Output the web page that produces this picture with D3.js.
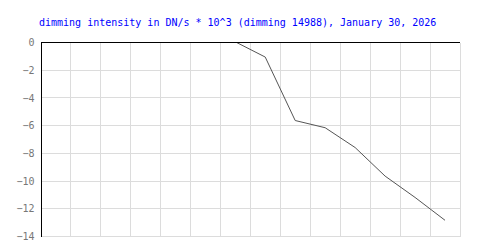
<!DOCTYPE html>
<html>
<head>
<meta charset="utf-8">
<script src="https://cdn.jsdelivr.net/npm/d3@7"></script>
<style>
  body { margin: 0; background: #fff; }
  svg { display: block; }
</style>
</head>
<body>
<div id="chart"></div>
<script>
// Data (x in grid steps, y in DN/s * 10^3)
var titleText = "dimming intensity in DN/s * 10^3 (dimming 14988), January 30, 2026";
var xSteps = [6.5, 7.5, 8.5, 9.5, 10.5, 11.5, 12.5, 13.5];
var dimming = [0.05, -1.05, -5.63, -6.15, -7.58, -9.64, -11.18, -12.83];
var yTicks = [0, -2, -4, -6, -8, -10, -12, -14];
var xGrid = d3.range(0, 15);

var width = 500, height = 250;
var margin = {top: 42.5, right: 40, bottom: 13.5, left: 40.5};

var svg = d3.select('#chart')
            .append('svg')
            .attr('width', width)
            .attr('height', height);

var x = d3.scaleLinear()
          .domain([0, 14])
          .range([margin.left, width - margin.right]);

var y = d3.scaleLinear()
          .domain([0, -14])
          .range([margin.top, height - margin.bottom]);

// title
svg.append('text')
   .attr('x', 39)
   .attr('y', 26)
   .attr('fill', '#0000ff')
   .style('font-family', '"DejaVu Sans Mono", monospace')
   .style('font-size', '10px')
   .text(titleText);

// grid
var grid = svg.append('g')
              .attr('stroke', '#dcdcdc')
              .attr('shape-rendering', 'crispEdges');

grid.selectAll('.vgrid')
    .data(xGrid)
    .enter()
    .append('line')
    .attr('x1', function(d) { return Math.round(x(d)) + 0.5; })
    .attr('x2', function(d) { return Math.round(x(d)) + 0.5; })
    .attr('y1', y(0))
    .attr('y2', y(-14));

grid.selectAll('.hgrid')
    .data(yTicks)
    .enter()
    .append('line')
    .attr('x1', x(0))
    .attr('x2', x(14))
    .attr('y1', function(d) { return Math.floor(y(d)) + 0.5; })
    .attr('y2', function(d) { return Math.floor(y(d)) + 0.5; });

// clip the line to the plot area
svg.append('clipPath')
   .attr('id', 'plot-clip')
   .append('rect')
   .attr('x', x(0))
   .attr('y', y(0))
   .attr('width', x(14) - x(0))
   .attr('height', y(-14) - y(0));

var line = d3.line()
             .x(function(d, i) { return x(xSteps[i]); })
             .y(function(d) { return y(d); });

svg.append('path')
   .datum(dimming)
   .attr('clip-path', 'url(#plot-clip)')
   .attr('fill', 'none')
   .attr('stroke', '#555')
   .attr('stroke-width', 1)
   .attr('d', line);

// y axis with tick labels only
var yAxis = d3.axisLeft(y)
              .tickValues(yTicks)
              .tickSize(0)
              .tickPadding(6)
              .tickFormat(function(d) { return d === 0 ? '0' : '\u2212' + Math.abs(d); });

var gy = svg.append('g')
            .attr('transform', 'translate(' + x(0) + ',0)')
            .call(yAxis);

gy.select('.domain')
  .attr('stroke', '#000')
  .attr('shape-rendering', 'crispEdges');
gy.selectAll('text')
  .attr('fill', '#777')
  .style('font-family', '"DejaVu Sans Mono", monospace')
  .style('font-size', '10px');

// black top border
svg.append('line')
   .attr('x1', x(0))
   .attr('x2', x(14))
   .attr('y1', y(0))
   .attr('y2', y(0))
   .attr('stroke', '#000')
   .attr('shape-rendering', 'crispEdges');
</script>
</body>
</html>
